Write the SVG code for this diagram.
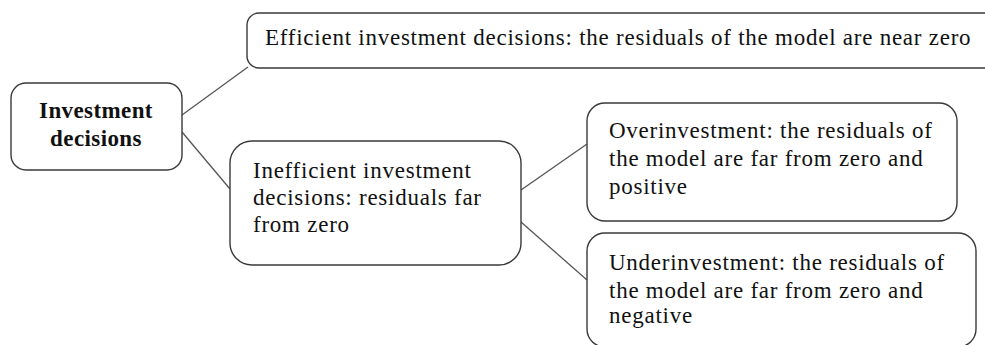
<svg xmlns="http://www.w3.org/2000/svg" width="985" height="345" viewBox="0 0 985 345">
<style>
.box{fill:#fff;stroke:#3a3a3a;stroke-width:1.4}
.t{font-family:"Liberation Serif","Times New Roman",serif;font-size:23px;letter-spacing:0.75px;fill:#111}
.b{font-weight:bold;text-anchor:middle;letter-spacing:0.4px}
.c{stroke:#555;stroke-width:1.3;fill:none}
</style>
<rect width="985" height="345" fill="#fff"/>
<g id="connectors">
<line class="c" x1="182" y1="115" x2="248" y2="67"/>
<line class="c" x1="182" y1="132" x2="230" y2="189"/>
<line class="c" x1="521" y1="190" x2="587" y2="144"/>
<line class="c" x1="521" y1="222" x2="587" y2="280"/>
</g>
<g id="investment-decisions">
<rect class="box" x="11" y="83" width="171" height="87" rx="15"/>
<text class="t b" x="96" y="118">Investment</text>
<text class="t b" x="96" y="146">decisions</text>
</g>
<g id="efficient">
<rect class="box" x="247" y="13" width="760" height="55" rx="12"/>
<text class="t" x="265" y="45">Efficient investment decisions: the residuals of the model are near zero</text>
</g>
<g id="inefficient">
<rect class="box" x="230" y="141" width="291" height="124" rx="22"/>
<text class="t" x="253" y="178">Inefficient investment</text>
<text class="t" x="253" y="205">decisions: residuals far</text>
<text class="t" x="253" y="232">from zero</text>
</g>
<g id="overinvestment">
<rect class="box" x="587" y="103" width="370" height="118" rx="18"/>
<text class="t" x="609" y="138">Overinvestment: the residuals of</text>
<text class="t" x="609" y="166">the model are far from zero and</text>
<text class="t" x="609" y="194">positive</text>
</g>
<g id="underinvestment">
<rect class="box" x="587" y="233" width="389" height="114" rx="18"/>
<text class="t" x="609" y="270">Underinvestment: the residuals of</text>
<text class="t" x="609" y="298">the model are far from zero and</text>
<text class="t" x="609" y="323">negative</text>
</g>
</svg>
